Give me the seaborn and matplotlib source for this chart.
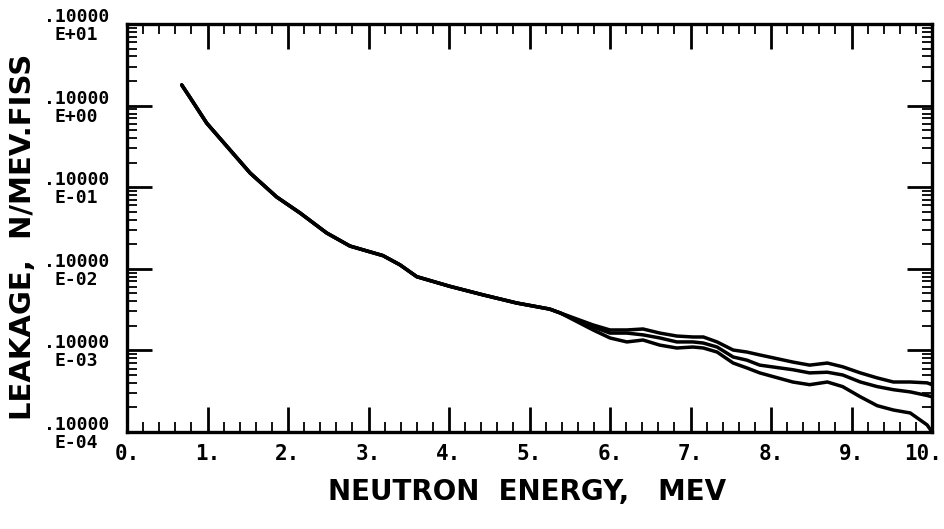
import matplotlib
matplotlib.use("Agg")
import matplotlib.pyplot as plt
import matplotlib.transforms as mtransforms
import numpy as np
import pandas as pd
import seaborn as sns
from matplotlib.ticker import FixedLocator, LogLocator, NullFormatter

# ---- data ----
energy = [0.68, 0.78, 0.99, 1.28, 1.53, 1.86, 2.15, 2.48, 2.77, 3.18, 3.39, 3.60,
          4.01, 4.42, 4.84, 5.25, 5.38, 5.79, 6.00, 6.21, 6.41, 6.62, 6.83, 7.03,
          7.16, 7.33, 7.53, 7.70, 7.86, 8.27, 8.48, 8.70, 8.89, 9.11, 9.32, 9.52,
          9.73, 9.94, 10.0]

common_low = [1.79, 1.27, 0.61, 0.286, 0.149, 0.0758, 0.0483, 0.0275, 0.0190,
              0.0145, 0.0112, 0.0080, 0.00610, 0.00480, 0.00381, 0.00321, 0.00288]

upper_high = [0.00205, 0.00178, 0.00178, 0.00183, 0.00163, 0.00150, 0.00146,
              0.00146, 0.00127, 0.00101, 0.000955, 0.00088, 0.00072, 0.00066,
              0.00070, 0.00063, 0.00053, 0.00046, 0.00041, 0.00041, 0.00040, 0.00038]
middle_high = [0.00194, 0.00163, 0.00163, 0.00155, 0.00142, 0.00127, 0.00127,
               0.00123, 0.00110, 0.00083, 0.00076, 0.00066, 0.00058, 0.00053,
               0.00054, 0.00050, 0.00041, 0.00036, 0.00033, 0.00031, 0.00028, 0.00027]
lower_high = [0.00178, 0.00142, 0.00127, 0.00134, 0.00116, 0.00107, 0.00110,
              0.00107, 0.000955, 0.00070, 0.00061, 0.00053, 0.00041, 0.00038,
              0.00041, 0.00036, 0.00027, 0.00021, 0.000186, 0.000171, 0.000122, 0.00010]

x_tick_values = [0, 1, 2, 3, 4, 5, 6, 7, 8, 9, 10]
x_tick_labels = ["0.", "1.", "2.", "3.", "4.", "5.", "6.", "7.", "8.", "9.", "10."]
y_tick_values = [1e-4, 1e-3, 1e-2, 1e-1, 1e0, 1e1]
y_tick_labels = [".10000\nE-04", ".10000\nE-03", ".10000\nE-02",
                 ".10000\nE-01", ".10000\nE+00", ".10000\nE+01"]

x_label = "NEUTRON  ENERGY,   MEV"
y_label = "LEAKAGE,  N/MEV.FISS"

# ---- build long-form table ----
rows = []
for name, high in (("upper", upper_high), ("middle", middle_high), ("lower", lower_high)):
    vals = common_low + high
    for e, v in zip(energy, vals):
        rows.append({"energy": e, "leakage": v, "series": name})
df = pd.DataFrame(rows)

sns.set_theme(style="white")
plt.rcParams["font.family"] = ["DejaVu Sans"]

fig = plt.figure(figsize=(9.44, 5.29), dpi=100)
ax = fig.add_axes([127 / 944, 1 - 432 / 529, (932 - 127) / 944, (432 - 24) / 529])

sns.lineplot(data=df, x="energy", y="leakage", hue="series",
             palette=["black", "black", "black"], estimator=None, sort=False,
             legend=False, linewidth=2.5, ax=ax)

ax.set_yscale("log")
ax.set_xlim(0, 10)
ax.set_ylim(1e-4, 1e1)

ax.xaxis.set_major_locator(FixedLocator(x_tick_values))
ax.set_xticklabels(x_tick_labels, family="DejaVu Sans Mono", fontweight="bold", fontsize=15)
ax.xaxis.set_minor_locator(FixedLocator(np.arange(0, 10.01, 0.2)))

ax.yaxis.set_major_locator(FixedLocator(y_tick_values))
ax.set_yticklabels(y_tick_labels, family="DejaVu Sans Mono", fontweight="bold",
                   fontsize=13, linespacing=1.0, multialignment="center")
ax.yaxis.set_minor_locator(LogLocator(base=10, subs=np.arange(2, 10)))
ax.yaxis.set_minor_formatter(NullFormatter())

ax.tick_params(axis="both", which="major", direction="in",
               bottom=True, left=True, top=True, right=True,
               length=18, width=2.0, color="black", labelcolor="black")
ax.tick_params(axis="x", which="major", pad=9)
ax.tick_params(axis="y", which="major", pad=13)
ax.tick_params(axis="both", which="minor", direction="in",
               bottom=True, left=True, top=True, right=True,
               length=7, width=1.3, color="black")

# keep the last x label inside the figure
last = ax.get_xticklabels()[-1]
last.set_transform(last.get_transform() +
                   mtransforms.ScaledTranslation(-9 / 100, 0, fig.dpi_scale_trans))

for s in ax.spines.values():
    s.set_color("black")
    s.set_linewidth(2.4)
    s.set_visible(True)

ax.set_xlabel("")
ax.set_ylabel("")
fig.text(527 / 944, 1 - 492 / 529, x_label, ha="center", va="center", fontsize=20,
         fontweight="bold", color="black", family="DejaVu Sans")
fig.text(23 / 944, 1 - 237 / 529, y_label, ha="center", va="center", rotation=90,
         fontsize=21, fontweight="bold", color="black", family="DejaVu Sans")

fig.savefig("out.png", dpi=100, facecolor="white")
